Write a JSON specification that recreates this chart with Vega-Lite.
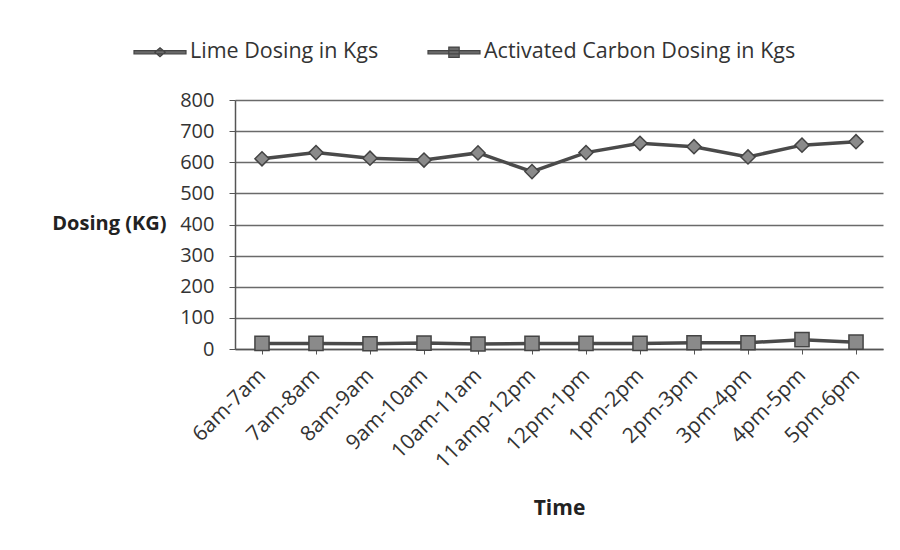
{
  "$schema": "https://vega.github.io/schema/vega-lite/v6.json",
  "width": 648,
  "height": 249,
  "autosize": "none",
  "padding": {"left": 235, "top": 100, "right": 17, "bottom": 201},
  "background": "white",
  "config": {
    "font": "Open Sans",
    "view": {"stroke": null},
    "axis": {"labelFont": "Open Sans", "titleFont": "Open Sans", "labelColor": "#333", "titleColor": "#222"}
  },
  "data": {
    "values": [
      {"time": "6am-7am", "series": "Lime Dosing in Kgs", "value": 611},
      {"time": "7am-8am", "series": "Lime Dosing in Kgs", "value": 631},
      {"time": "8am-9am", "series": "Lime Dosing in Kgs", "value": 613},
      {"time": "9am-10am", "series": "Lime Dosing in Kgs", "value": 607},
      {"time": "10am-11am", "series": "Lime Dosing in Kgs", "value": 630},
      {"time": "11amp-12pm", "series": "Lime Dosing in Kgs", "value": 570},
      {"time": "12pm-1pm", "series": "Lime Dosing in Kgs", "value": 631},
      {"time": "1pm-2pm", "series": "Lime Dosing in Kgs", "value": 661},
      {"time": "2pm-3pm", "series": "Lime Dosing in Kgs", "value": 650},
      {"time": "3pm-4pm", "series": "Lime Dosing in Kgs", "value": 617},
      {"time": "4pm-5pm", "series": "Lime Dosing in Kgs", "value": 655},
      {"time": "5pm-6pm", "series": "Lime Dosing in Kgs", "value": 666},
      {"time": "6am-7am", "series": "Activated Carbon Dosing in Kgs", "value": 18},
      {"time": "7am-8am", "series": "Activated Carbon Dosing in Kgs", "value": 18},
      {"time": "8am-9am", "series": "Activated Carbon Dosing in Kgs", "value": 17},
      {"time": "9am-10am", "series": "Activated Carbon Dosing in Kgs", "value": 19},
      {"time": "10am-11am", "series": "Activated Carbon Dosing in Kgs", "value": 16},
      {"time": "11amp-12pm", "series": "Activated Carbon Dosing in Kgs", "value": 18},
      {"time": "12pm-1pm", "series": "Activated Carbon Dosing in Kgs", "value": 18},
      {"time": "1pm-2pm", "series": "Activated Carbon Dosing in Kgs", "value": 18},
      {"time": "2pm-3pm", "series": "Activated Carbon Dosing in Kgs", "value": 20},
      {"time": "3pm-4pm", "series": "Activated Carbon Dosing in Kgs", "value": 20},
      {"time": "4pm-5pm", "series": "Activated Carbon Dosing in Kgs", "value": 30},
      {"time": "5pm-6pm", "series": "Activated Carbon Dosing in Kgs", "value": 22}
    ]
  },
  "encoding": {
    "x": {
      "field": "time", "type": "nominal", "sort": null,
      "scale": {"paddingInner": 0, "paddingOuter": 0},
      "axis": {
        "title": "Time", "titleFontSize": 21, "titleFontWeight": "bold",
        "titleY": 159, "titleBaseline": "middle",
        "labelAngle": -45, "labelAlign": "right", "labelBaseline": "middle",
        "labelFontSize": 21, "labelPadding": 18,
        "bandPosition": 0, "tickSize": 5, "tickColor": "#555",
        "domainColor": "#555", "domainWidth": 1.5, "grid": false
      }
    },
    "y": {
      "field": "value", "type": "quantitative",
      "scale": {"domain": [0, 800], "nice": false},
      "axis": {
        "title": "Dosing (KG)", "titleAngle": 0, "titleAlign": "right",
        "titleBaseline": "middle", "titleX": -69, "titleY": 123,
        "titleFontSize": 20, "titleFontWeight": "bold",
        "values": [0, 100, 200, 300, 400, 500, 600, 700, 800],
        "labelFontSize": 20, "labelPadding": 15,
        "tickSize": 6, "tickColor": "#555",
        "domainColor": "#555", "domainWidth": 1.5,
        "grid": true, "gridColor": "#6a6a6a", "gridWidth": 1.3
      }
    }
  },
  "layer": [
    {
      "mark": {"type": "line", "strokeWidth": 3.5},
      "encoding": {
        "detail": {"field": "series"},
        "color": {"value": "#4a4a4a"}
      }
    },
    {
      "mark": {"type": "point", "filled": true, "opacity": 1, "size": 200, "strokeWidth": 1.5, "stroke": "#444", "fill": "#8a8a8a"},
      "encoding": {
        "shape": {
          "field": "series", "type": "nominal",
          "scale": {"domain": ["Lime Dosing in Kgs", "Activated Carbon Dosing in Kgs"], "range": ["diamond", "square"]},
          "legend": null
        }
      }
    },
    {
      "mark": {"type": "point", "filled": true, "opacity": 0, "size": 200},
      "encoding": {
        "shape": {
          "field": "series", "type": "nominal",
          "scale": {"domain": ["Lime Dosing in Kgs", "Activated Carbon Dosing in Kgs"], "range": ["M-1,-0.06H1V0.06H-1Z M0,-0.17L0.2,0L0,0.17L-0.2,0Z", "M-1,-0.06H1V0.06H-1Z M-0.2,-0.2H0.2V0.2H-0.2Z"]},
          "legend": {
            "title": null, "orient": "none", "direction": "horizontal",
            "legendX": -102, "legendY": -75,
            "labelFontSize": 21.5, "labelColor": "#333", "labelFont": "Open Sans", "labelLimit": 0,
            "symbolSize": 2704, "symbolStrokeWidth": 1.2,
            "symbolFillColor": "#6a6a6a", "symbolStrokeColor": "#444",
            "symbolOpacity": 1,
            "labelOffset": 3, "columnPadding": 46,
            "encoding": {
              "symbols": {
                "fill": {"value": "#6a6a6a"},
                "stroke": {"value": "#444"},
                "opacity": {"value": 1}
              }
            }
          }
        }
      }
    }
  ],
  "resolve": {"scale": {"shape": "independent"}, "legend": {"shape": "independent"}}
}
